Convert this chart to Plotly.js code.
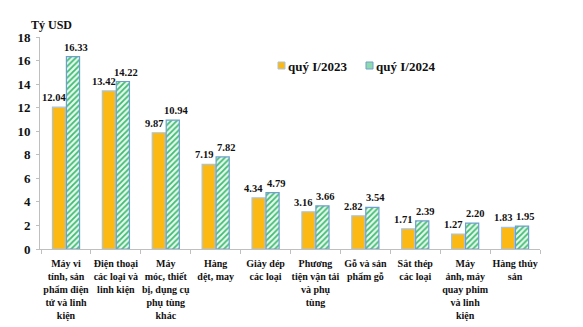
<!DOCTYPE html>
<html><head><meta charset="utf-8">
<script src="https://cdn.plot.ly/plotly-3.0.1.min.js"></script>
<style>body{margin:0;background:#fff}#c{width:583px;height:327px}</style>
</head><body><div id="c"></div>
<script>
var categories = [
  "Máy vi<br>tính, sản<br>phẩm điện<br>tử và linh<br>kiện",
  "Điện thoại<br>các loại và<br>linh kiện",
  "Máy<br>móc, thiết<br>bị, dụng cụ<br>phụ tùng<br>khác",
  "Hàng<br>dệt, may",
  "Giày dép<br>các loại",
  "Phương<br>tiện vận tải<br>và phụ<br>tùng",
  "Gỗ và sản<br>phẩm gỗ",
  "Sắt thép<br>các loại",
  "Máy<br>ảnh, máy<br>quay phim<br>và linh<br>kiện",
  "Hàng thủy<br>sản"
];
var q2023 = [12.04, 13.42, 9.87, 7.19, 4.34, 3.16, 2.82, 1.71, 1.27, 1.83];
var q2024 = [16.33, 14.22, 10.94, 7.82, 4.79, 3.66, 3.54, 2.39, 2.20, 1.95];
var names = ["quý I/2023", "quý I/2024"];
var yTicks = [0, 2, 4, 6, 8, 10, 12, 14, 16, 18];

var font = "Liberation Serif, Times New Roman, serif";
var ORANGE = '#FDB913', ORANGE_LINE = '#A9C4DE';
var GREEN = '#3DBE72', GREEN_LINE = '#6F9FCC';

var traces = [
  {type: 'bar', name: names[0], x: categories, y: q2023, showlegend: false,
   marker: {color: ORANGE, line: {color: ORANGE_LINE, width: 1.2}}},
  {type: 'bar', name: names[1], x: categories, y: q2024, showlegend: false,
   marker: {color: '#ffffff', pattern: {shape: '/', fgcolor: GREEN, bgcolor: '#E8F7EE', size: 4, solidity: 0.45},
            line: {color: GREEN_LINE, width: 1.2}}}
];

var lblFont = {family: font, size: 10.5, color: '#111', weight: 'bold'};
var annotations = [];
function addLabels(vals, xs, ys) {
  vals.forEach(function(v, i) {
    annotations.push({x: categories[i], y: v, xref: 'x', yref: 'y', text: v.toFixed(2),
      showarrow: false, xanchor: 'center', yanchor: 'bottom', xshift: xs, yshift: ys, font: lblFont});
  });
}
addLabels(q2023, -12, 2);
addLabels(q2024, 10, 2);

annotations.push({text: 'Tỷ USD', xref: 'paper', yref: 'paper', x: -0.022, y: 1.066,
  xanchor: 'left', yanchor: 'middle', showarrow: false, yshift: -2,
  font: {family: font, size: 12, color: '#111', weight: 'bold'}});

// legend (manual, to match the compact swatch/text spacing)
function px2x(p) { return (p - 40) / 500; }
function py2y(p) { return (249 - p) / 212; }
var legFont = {family: font, size: 13, color: '#111', weight: 'bold'};
annotations.push({text: names[0], xref: 'paper', yref: 'paper', x: px2x(286), y: py2y(66),
  xanchor: 'left', yanchor: 'middle', showarrow: false, font: legFont});
annotations.push({text: names[1], xref: 'paper', yref: 'paper', x: px2x(374), y: py2y(66),
  xanchor: 'left', yanchor: 'middle', showarrow: false, font: legFont});
var shapes = [
  {type: 'rect', xref: 'paper', yref: 'paper', x0: px2x(278), x1: px2x(285), y0: py2y(69), y1: py2y(62),
   fillcolor: ORANGE, line: {color: ORANGE_LINE, width: 1}},
  {type: 'rect', xref: 'paper', yref: 'paper', x0: px2x(366), x1: px2x(373), y0: py2y(69), y1: py2y(62),
   fillcolor: '#8FD9AE', line: {color: GREEN_LINE, width: 1}}
];

var layout = {
  width: 583, height: 327,
  margin: {l: 40, r: 43, t: 37, b: 78},
  paper_bgcolor: '#fff', plot_bgcolor: '#fff',
  barmode: 'group', bargap: 0.44, bargroupgap: 0.06,
  font: {family: font, size: 11, color: '#111'},
  showlegend: false,
  xaxis: {type: 'category', showline: true, linecolor: '#BFBFBF', linewidth: 1,
          ticks: 'outside', tickson: 'boundaries', ticklen: 4, tickcolor: '#BFBFBF',
          tickangle: 0, ticklabelstandoff: 5,
          tickfont: {family: font, size: 10, color: '#111', weight: 'bold'},
          showgrid: false, fixedrange: true},
  yaxis: {range: [0, 18], tickvals: yTicks, showline: true, linecolor: '#BFBFBF', linewidth: 1,
          ticks: 'outside', ticklen: 3, tickcolor: '#BFBFBF', ticklabelstandoff: 3,
          tickfont: {family: font, size: 13, color: '#111', weight: 'bold'},
          showgrid: false, zeroline: false, fixedrange: true},
  annotations: annotations,
  shapes: shapes
};
Plotly.newPlot('c', traces, layout, {displayModeBar: false, staticPlot: true});
</script></body></html>
